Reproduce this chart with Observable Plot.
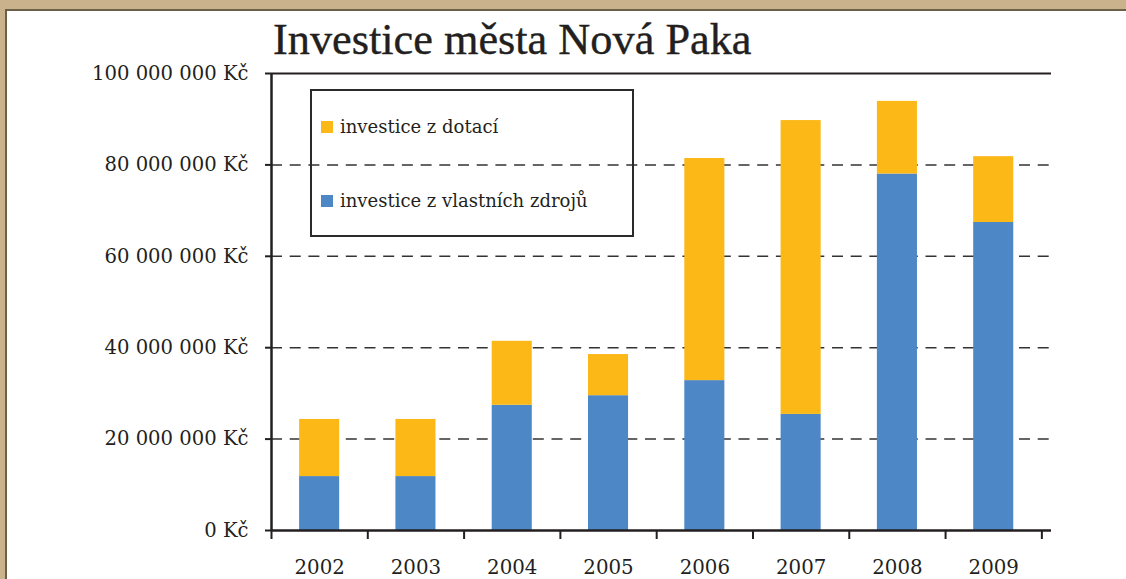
<!DOCTYPE html>
<html>
<head>
<meta charset="utf-8">
<script src="https://cdn.jsdelivr.net/npm/d3@7"></script>
<script src="https://cdn.jsdelivr.net/npm/@observablehq/plot@0.6"></script>
<style>
  html, body { margin: 0; padding: 0; background: #fff; width: 1126px; height: 579px; overflow: hidden; }
  #wrap { position: relative; width: 1126px; height: 579px; background: #fff; }
  #chart { position: absolute; left: 0; top: 0; }
  .tan-top { position: absolute; left: 0; top: 0; width: 1126px; height: 9px; background: #c9b28c; }
  .dark-top { position: absolute; left: 5px; top: 9px; width: 1121px; height: 2px; background: #6c6049; }
  .tan-left { position: absolute; left: 0; top: 0; width: 5px; height: 579px; background: #c9b28c; }
  .dark-left { position: absolute; left: 5px; top: 9px; width: 2px; height: 570px; background: #6c6049; }
  #title { position: absolute; left: 273px; top: 18px; font-family: "Liberation Serif", serif; font-size: 44.3px; line-height: 44px; color: #231f20; white-space: nowrap; -webkit-text-stroke: 0.4px #231f20; }
  #legend { position: absolute; left: 310px; top: 89px; width: 324px; height: 148px; box-sizing: border-box; border: 2px solid #2a2a2a; background: transparent; }
  .sw { position: absolute; width: 12px; height: 12px; }
  .lt { position: absolute; font-family: "DejaVu Serif", serif; font-size: 18px; line-height: 18px; color: #231f20; white-space: nowrap; }
</style>
</head>
<body>
<div id="wrap">
  <div id="chart"></div>
  <div class="tan-top"></div>
  <div class="tan-left"></div>
  <div class="dark-top"></div>
  <div class="dark-left"></div>
  <div id="title">Investice města Nová Paka</div>
  <div id="legend"></div>
</div>
<script>
// ---- data (values in millions of Kč) ----
const years = [2002, 2003, 2004, 2005, 2006, 2007, 2008, 2009];
const ownFundsM = [11.8, 11.8, 27.4, 29.5, 32.8, 25.4, 78.0, 67.4];
const grantFundsM = [12.5, 12.5, 14.0, 9.0, 48.6, 64.3, 15.9, 14.4];
const yTicks = [0, 20e6, 40e6, 60e6, 80e6, 100e6];
const seriesNames = ["investice z vlastních zdrojů", "investice z dotací"];
const seriesColors = ["#4d87c6", "#fbb817"];
const legendOrder = ["investice z dotací", "investice z vlastních zdrojů"];

// ---- build table ----
const table = [];
years.forEach((yr, i) => {
  const own = ownFundsM[i] * 1e6;
  const grant = grantFundsM[i] * 1e6;
  table.push({year: yr, series: seriesNames[0], y1: 0, y2: own});
  table.push({year: yr, series: seriesNames[1], y1: own, y2: own + grant});
});
const halfBar = 0.208;
const boundaries = years.map(y => y - 0.5).concat([years[years.length - 1] + 0.5]);
const yMax = yTicks[yTicks.length - 1];
const ink = "#231f20";
const fmtKc = d => d3.format(",")(d).replace(/,/g, " ") + " Kč";

const chart = Plot.plot({
  width: 1126,
  height: 579,
  marginLeft: 271,
  marginRight: 75,
  marginTop: 73,
  marginBottom: 49,
  x: {type: "linear", domain: [years[0] - 0.5, years[years.length - 1] + 0.6]},
  y: {domain: [0, yMax]},
  color: {domain: seriesNames, range: seriesColors},
  style: {fontFamily: "DejaVu Serif", fontSize: "19.6px", color: ink, background: "transparent", overflow: "visible"},
  marks: [
    Plot.ruleY(yTicks.filter(t => t > 0 && t < yMax), {stroke: "#333", strokeWidth: 1.5, strokeDasharray: "11,7.7"}),
    Plot.rectY(table, {x1: d => d.year - halfBar, x2: d => d.year + halfBar, y1: "y1", y2: "y2", fill: "series"}),
    Plot.ruleY([yMax], {stroke: ink, strokeWidth: 2}),
    Plot.ruleY([0], {stroke: ink, strokeWidth: 2.5}),
    Plot.ruleX([boundaries[0]], {stroke: ink, strokeWidth: 2.5}),
    Plot.ruleX(boundaries, {y1: 0, y2: 0, insetBottom: -9, stroke: ink, strokeWidth: 2}),
    Plot.axisY({ticks: yTicks, tickFormat: fmtKc, tickSize: 6, tickPadding: 17, stroke: ink, strokeWidth: 2, label: null, fontSize: 19.6}),
    Plot.axisX({ticks: years, tickFormat: d => String(d), tickSize: 0, tickPadding: 29, label: null, fontSize: 19.8})
  ]
});
document.getElementById("chart").appendChild(chart);

// ---- legend ----
const legend = document.getElementById("legend");
const swTops = [30, 104];
const txtTops = [27, 101];
legendOrder.forEach((name, i) => {
  const sw = document.createElement("div");
  sw.className = "sw";
  sw.style.left = "9px";
  sw.style.top = swTops[i] + "px";
  sw.style.background = seriesColors[seriesNames.indexOf(name)];
  legend.appendChild(sw);
  const t = document.createElement("div");
  t.className = "lt";
  t.style.left = "28px";
  t.style.top = txtTops[i] + "px";
  t.textContent = name;
  legend.appendChild(t);
});
</script>
</body>
</html>
